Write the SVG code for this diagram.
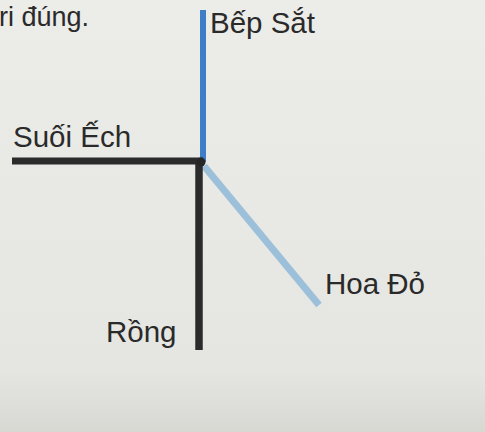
<svg xmlns="http://www.w3.org/2000/svg" width="485" height="432" viewBox="0 0 485 432">
  <defs>
    <linearGradient id="paper" x1="0" y1="0" x2="0" y2="1">
      <stop offset="0" stop-color="#ecece9"/>
      <stop offset="0.86" stop-color="#e5e5e1"/>
      <stop offset="1" stop-color="#d8d8d3"/>
    </linearGradient>
    <style>
      .lbl { font-family: "Liberation Sans", Arial, sans-serif; font-size: 29.5px; fill: #2a2a2a; }
      .intro { font-size: 27px; }
      .road { fill: none; stroke-linecap: butt; }
    </style>
  </defs>
  <rect x="0" y="0" width="485" height="432" fill="url(#paper)"/>
  <text class="lbl intro" x="-1" y="26">ri đúng.</text>

  <g id="connectors">
    <line class="road" x1="203" y1="10" x2="203" y2="162" stroke="#3d7ec6" stroke-width="6"/>
    <line class="road" x1="204" y1="166" x2="319" y2="305" stroke="#9dc0da" stroke-width="7"/>
    <line class="road" x1="12" y1="161" x2="203" y2="161" stroke="#2b2b2b" stroke-width="7"/>
    <line class="road" x1="199" y1="161" x2="199" y2="350" stroke="#2b2b2b" stroke-width="7.5"/>
  </g>

  <g id="junction">
    <circle cx="201" cy="162" r="4.5" fill="#262626"/>
  </g>
  <g id="bep-sat">
    <text class="lbl" x="210" y="33">Bếp Sắt</text>
  </g>
  <g id="suoi-ech">
    <text class="lbl" x="13" y="147">Suối Ếch</text>
  </g>
  <g id="hoa-do">
    <text class="lbl" x="325" y="294">Hoa Đỏ</text>
  </g>
  <g id="rong">
    <text class="lbl" x="106" y="342">Rồng</text>
  </g>
</svg>
